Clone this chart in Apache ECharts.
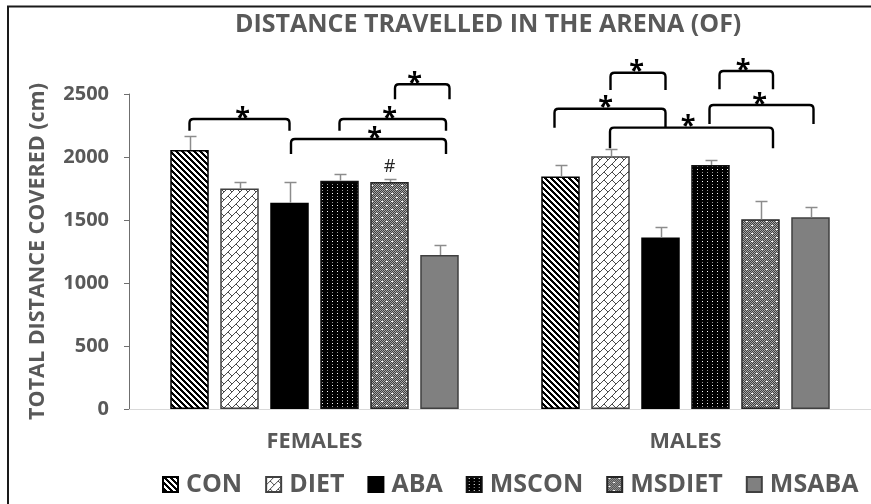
<!DOCTYPE html>
<html>
<head>
<meta charset="utf-8">
<script src="https://cdn.jsdelivr.net/npm/echarts@6/dist/echarts.min.js"></script>
<style>
  html, body { margin: 0; padding: 0; background: #fff; }
  #chart { width: 871px; height: 504px; }
</style>
</head>
<body>
<div id="chart"></div>
<script>
// ---- data -------------------------------------------------------------
const groups = ['FEMALES', 'MALES'];
const treatments = ['CON', 'DIET', 'ABA', 'MSCON', 'MSDIET', 'MSABA'];

// mean distance covered (cm): [females, males]
const CON = [2055, 1845];
const DIET = [1750, 2005];
const ABA = [1637, 1362];
const MSCON = [1812, 1937];
const MSDIET = [1802, 1505];
const MSABA = [1222, 1521];

// standard error of the mean: [females, males]
const CON_SEM = [115, 93];
const DIET_SEM = [53, 61];
const ABA_SEM = [167, 80];
const MSCON_SEM = [50, 40];
const MSDIET_SEM = [23, 148];
const MSABA_SEM = [82, 82];

const yTicks = [0, 500, 1000, 1500, 2000, 2500];

// significance brackets: group, first bar slot, last bar slot,
// bracket level (cm), left leg end (cm), right leg end (cm), star slot
const brackets = [
  [0, 0.00, 2.00, 2302, 2208, 2208, 1.06],
  [0, 3.00, 5.13, 2302, 2208, 2208, 4.00],
  [0, 2.03, 5.13, 2143, 2024, 2024, 3.70],
  [0, 4.11, 5.20, 2577, 2458, 2458, 4.50],
  [1, 1.00, 2.10, 2669, 2532, 2532, 1.52],
  [1, 3.18, 4.25, 2683, 2537, 2537, 3.65],
  [1, -0.12, 2.10, 2383, 2233, 2233, 0.90],
  [1, 2.98, 5.06, 2413, 2262, 2262, 3.98],
  [1, 0.99, 4.25, 2233, 2069, 2069, 2.55]
];

// '#' marks: group, bar slot
const hashMarks = [[0, 4]];

const means = [CON, DIET, ABA, MSCON, MSDIET, MSABA];
const sems = [CON_SEM, DIET_SEM, ABA_SEM, MSCON_SEM, MSDIET_SEM, MSABA_SEM];

// ---- layout / style ---------------------------------------------------
const FONT = 'Open Sans';
const GREY_TEXT = '#595959';
const BAR_W = 38.5;
const BAR_PITCH = 50;
const BAR_GAP = ((BAR_PITCH - BAR_W) / BAR_W * 100).toFixed(2) + '%';
const N = treatments.length;

function tile(w, h, draw) {
  const c = document.createElement('canvas');
  c.width = w; c.height = h;
  const ctx = c.getContext('2d');
  draw(ctx);
  return { image: c, repeat: 'repeat' };
}
function px(ctx, color, x, y, w, h) { ctx.fillStyle = color; ctx.fillRect(x, y, w || 1, h || 1); }

// wide downward diagonal stripes
const conFill = tile(6, 6, ctx => {
  px(ctx, '#fff', 0, 0, 6, 6);
  for (let y = 0; y < 6; y++) for (let x = 0; x < 6; x++)
    if (((x - y) % 6 + 6) % 6 < 3) px(ctx, '#000', x, y);
});
// diagonal brick
const dietFill = tile(8, 8, ctx => {
  px(ctx, '#fff', 0, 0, 8, 8);
  for (let i = 0; i < 8; i++) px(ctx, '#4a4a4a', i, 7 - i);
  for (let k = 0; k < 4; k++) px(ctx, '#4a4a4a', 4 + k, 4 + k);
});
// black with small white dots
const msconFill = tile(5, 6, ctx => {
  px(ctx, '#000', 0, 0, 5, 6);
  px(ctx, '#fff', 2, 1);
  px(ctx, '#9a9a9a', 2, 4);
});
// fine grey checker with white dashes
const msdietFill = tile(10, 8, ctx => {
  for (let y = 0; y < 8; y++) for (let x = 0; x < 10; x++)
    px(ctx, (x + y) % 2 ? '#3f3f3f' : '#a6a6a6', x, y);
  px(ctx, '#fff', 1, 1, 2, 1);
  px(ctx, '#fff', 6, 5, 2, 1);
});

const barStyles = [
  { color: conFill, borderColor: '#000', borderWidth: 1.5 },
  { color: dietFill, borderColor: '#404040', borderWidth: 1.5 },
  { color: '#000', borderColor: '#000', borderWidth: 1.5 },
  { color: msconFill, borderColor: '#111', borderWidth: 1.5 },
  { color: msdietFill, borderColor: '#262626', borderWidth: 1.5 },
  { color: '#808080', borderColor: '#404040', borderWidth: 1.5 }
];

function slotX(api, g, slot) {
  return api.coord([g, 0])[0] + (slot - (N - 1) / 2) * BAR_PITCH;
}

const errorData = [];
means.forEach((vals, i) => vals.forEach((v, g) => errorData.push([g, i, v, sems[i][g]])));

const hashData = hashMarks.map(([g, i]) => [g, i, means[i][g] + sems[i][g]]);

const chart = echarts.init(document.getElementById('chart'), null, { renderer: 'canvas' });

chart.setOption({
  animation: false,
  backgroundColor: '#fff',
  textStyle: { fontFamily: FONT },
  title: {
    text: 'DISTANCE TRAVELLED IN THE ARENA (OF)',
    left: 235, top: 12, padding: 0,
    textStyle: { fontFamily: FONT, fontSize: 25, fontWeight: 'bold', color: GREY_TEXT }
  },
  legend: {
    data: treatments,
    left: 162, top: 472, padding: 0,
    itemWidth: 15, itemHeight: 15, itemGap: 23,
    icon: 'rect',
    textStyle: { fontFamily: FONT, fontSize: 25, fontWeight: 'bold', color: GREY_TEXT, padding: [0, 0, 0, 3] }
  },
  grid: { left: 129, top: 94, right: -5.6, bottom: 95 },
  xAxis: {
    type: 'category',
    data: groups,
    axisLine: { lineStyle: { color: '#d9d9d9', width: 1 } },
    axisTick: { show: false },
    axisLabel: { margin: 22, fontFamily: FONT, fontSize: 21.7, fontWeight: 'bold', color: GREY_TEXT }
  },
  yAxis: {
    type: 'value',
    min: yTicks[0], max: yTicks[yTicks.length - 1], interval: yTicks[1] - yTicks[0],
    name: 'TOTAL DISTANCE COVERED (cm)',
    nameLocation: 'middle', nameGap: 80, nameRotate: 90,
    nameTextStyle: { fontFamily: FONT, fontSize: 21.5, fontWeight: 'bold', color: GREY_TEXT },
    axisLine: { show: true, lineStyle: { color: '#6f6f6f', width: 1 } },
    axisTick: { show: true, length: 5, lineStyle: { color: '#6f6f6f' } },
    splitLine: { show: false },
    axisLabel: {
      margin: 20, fontFamily: FONT, fontSize: 20, fontWeight: 'bold', color: GREY_TEXT,
      formatter: v => String(v)
    }
  },
  graphic: [{
    type: 'rect', silent: true,
    shape: { x: 8, y: 6.5, width: 900, height: 600 },
    style: { fill: 'none', stroke: '#1a1a1a', lineWidth: 2 }
  }],
  series: [
    ...treatments.map((name, i) => ({
      type: 'bar', name, data: means[i],
      barWidth: BAR_W, barGap: BAR_GAP,
      itemStyle: barStyles[i], silent: true, z: 2
    })),
    {
      type: 'custom', name: 'sem', silent: true, z: 3,
      data: errorData,
      encode: { x: 0, y: 2 },
      renderItem(params, api) {
        const g = api.value(0), i = api.value(1), m = api.value(2), s = api.value(3);
        const cx = Math.round(slotX(api, g, i)) + 0.5;
        const y0 = api.coord([g, m])[1];
        const y1 = Math.round(api.coord([g, m + s])[1]) + 0.5;
        const st = { stroke: '#8c8c8c', lineWidth: 1.5 };
        return {
          type: 'group',
          children: [
            { type: 'line', shape: { x1: cx, y1: y0, x2: cx, y2: y1 }, style: st },
            { type: 'line', shape: { x1: cx - 6, y1: y1, x2: cx + 6, y2: y1 }, style: st }
          ]
        };
      }
    },
    {
      type: 'custom', name: 'brackets', silent: true, z: 4,
      data: brackets,
      encode: { x: 0, y: 3 },
      renderItem(params, api) {
        const g = api.value(0);
        const xa = slotX(api, g, api.value(1));
        const xb = slotX(api, g, api.value(2));
        const y = api.coord([g, api.value(3)])[1];
        const yl = api.coord([g, api.value(4)])[1];
        const yr = api.coord([g, api.value(5)])[1];
        const xs = slotX(api, g, api.value(6));
        const r = 4;
        const d = `M ${xa} ${yl} L ${xa} ${y + r} Q ${xa} ${y} ${xa + r} ${y} ` +
                  `L ${xb - r} ${y} Q ${xb} ${y} ${xb} ${y + r} L ${xb} ${yr}`;
        return {
          type: 'group',
          children: [
            { type: 'path', shape: { pathData: d },
              style: { fill: 'none', stroke: '#000', lineWidth: 2.4 } },
            { type: 'text', x: xs, y: y - 1,
              style: { text: '*', fontFamily: FONT, fontSize: 27, fontWeight: 'bold',
                       fill: '#000', align: 'center', verticalAlign: 'middle' } }
          ]
        };
      }
    },
    {
      type: 'custom', name: 'hash', silent: true, z: 4,
      data: hashData,
      encode: { x: 0, y: 2 },
      renderItem(params, api) {
        const g = api.value(0);
        const x = slotX(api, g, api.value(1));
        const y = api.coord([g, api.value(2)])[1];
        return {
          type: 'text', x: x, y: y - 12,
          style: { text: '#', fontFamily: FONT, fontSize: 18, fill: '#262626',
                   align: 'center', verticalAlign: 'middle' }
        };
      }
    }
  ]
});
</script>
</body>
</html>
